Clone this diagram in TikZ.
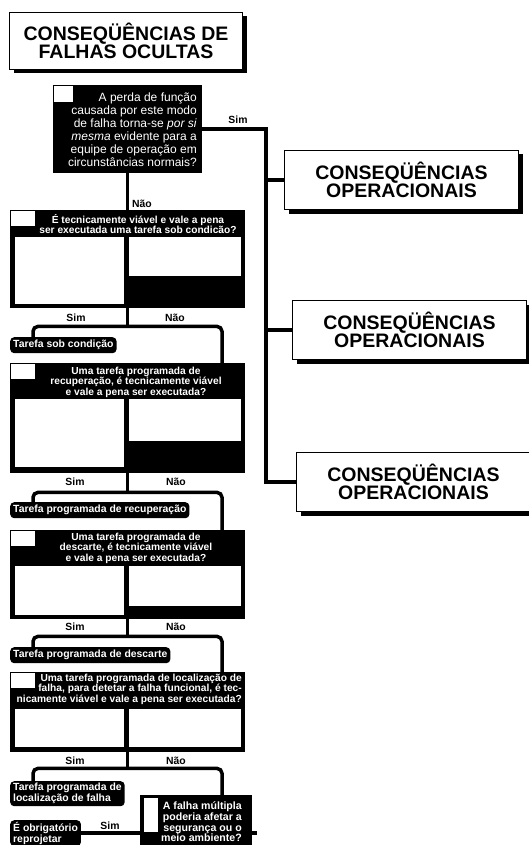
\documentclass[tikz,border=0pt]{standalone}
\usepackage{fontspec}
\setmainfont{Liberation Sans}
\usetikzlibrary{shadows}

\begin{document}
\begin{tikzpicture}[x=1pt,y=-1pt,
	wire/.style={line width=3.5pt},
	qbox/.style={anchor=north west,fill=black,inner sep=0},
	sqbox/.style={anchor=north west,fill=white,draw=black,line width=1pt,inner sep=0},
	qtext/.style={text=white,inner sep=0,align=center,font=\fontsize{10.2}{10.6}\selectfont\bfseries},
	tag/.style={anchor=north west,fill=black,text=white,rounded corners=4pt,inner xsep=3pt,inner ysep=0,
		minimum height=16,align=left,font=\fontsize{10.4}{11}\selectfont\bfseries},
	lbl/.style={inner sep=0,font=\fontsize{10.4}{11}\selectfont\bfseries},
	opbox/.style={anchor=north west,draw,line width=1pt,fill=white,inner sep=0,align=center,
		minimum width=234,minimum height=59,font=\fontsize{19.5}{18}\selectfont\bfseries,
		general shadow={fill=black,shadow xshift=4pt,shadow yshift=-4pt}},
	titlebox/.style={opbox,minimum width=233,minimum height=57,font=\fontsize{19.5}{17}\selectfont\bfseries}]
	\useasboundingbox (0,0) rectangle (528,845);
	% title
	\node[titlebox] (title) at (9,12) {CONSEQÜÊNCIAS DE\\FALHAS OCULTAS};
	% first question
	\node[qbox,minimum width=149,minimum height=88] (q1) at (53,85) {};
	\node[sqbox,minimum width=20,minimum height=17] (k1) at (q1.north west) {};
	\node[qtext,anchor=east,align=right,font=\fontsize{12}{13}\selectfont] (t1) at (197,130)
		{A perda de função\\causada por este modo\\de falha torna-se \textit{por si}\\\textit{mesma} evidente para a\\equipe de operação em\\circunstâncias normais?};
	% Sim: operational consequences
	\node[opbox] (op1) at (284,150) {CONSEQÜÊNCIAS\\OPERACIONAIS};
	\node[opbox] (op2) at (292,300) {CONSEQÜÊNCIAS\\OPERACIONAIS};
	\node[opbox] (op3) at (296,452) {CONSEQÜÊNCIAS\\OPERACIONAIS};
	\coordinate (bus) at (266,129);
	\draw[wire] (q1.east) -| (bus |- op3.west) -- (op3.west);
	\draw[wire] (bus |- op1.west) -- (op1.west);
	\draw[wire] (bus |- op2.west) -- (op2.west);
	\node[lbl] (sim1) at (238,120) {Sim};
	% Não: on-condition task
	\node[qbox,minimum width=235,minimum height=98] (q2) at (10,210) {};
	\draw[wire] (q1.south) -- (q2.north);
	\node[lbl] (nao1) at (142,204) {Não};
	\node[sqbox,minimum width=25,minimum height=16] (k2) at (q2.north west) {};
	\node[qtext] (t2) at (138,224) {É tecnicamente viável e vale a pena\\ser executada uma tarefa sob condicão?};
	\fill[white] (15,237) rectangle (124,304);
	\fill[white] (129,237) rectangle (241,276);
	\draw[wire] (q2.south) -- ++(0,18) coordinate (j2);
	\node[lbl] (sim2) at (76,318) {Sim};
	\node[lbl] (nao2) at (175,318) {Não};
	\node[tag] (a2) at (10,337) {Tarefa sob condição};
	% restoration task
	\node[qbox,minimum width=235,minimum height=110] (q3) at (10,363) {};
	\draw[wire,rounded corners=5pt] ([xshift=23pt]a2.north west) |- (j2) -| ([xshift=212pt]q3.north west);
	\node[sqbox,minimum width=25,minimum height=16] (k3) at (q3.north west) {};
	\node[qtext] (t3) at (136,382) {Uma tarefa programada de\\recuperação, é tecnicamente viável\\e vale a pena ser executada?};
	\fill[white] (15,399) rectangle (124,467);
	\fill[white] (129,399) rectangle (241,441);
	\draw[wire] (q3.south) -- ++(0,19) coordinate (j3);
	\node[lbl] (sim3) at (75,482) {Sim};
	\node[lbl] (nao3) at (176,482) {Não};
	\node[tag] (a3) at (10,502) {Tarefa programada de recuperação};
	% discard task
	\node[qbox,minimum width=235,minimum height=89] (q4) at (10,530) {};
	\draw[wire,rounded corners=5pt] ([xshift=23pt]a3.north west) |- (j3) -| ([xshift=212pt]q4.north west);
	\node[sqbox,minimum width=25,minimum height=16] (k4) at (q4.north west) {};
	\node[qtext] (t4) at (136,548) {Uma tarefa programada de\\descarte, é tecnicamente viável\\e vale a pena ser executada?};
	\fill[white] (15,566) rectangle (124,615);
	\fill[white] (129,566) rectangle (241,606);
	\draw[wire] (q4.south) -- ++(0,17) coordinate (j4);
	\node[lbl] (sim4) at (75,627) {Sim};
	\node[lbl] (nao4) at (176,627) {Não};
	\node[tag] (a4) at (10,647) {Tarefa programada de descarte};
	% failure-finding task
	\node[qbox,minimum width=235,minimum height=80] (q5) at (10,672) {};
	\draw[wire,rounded corners=5pt] ([xshift=23pt]a4.north west) |- (j4) -| ([xshift=212pt]q5.north west);
	\node[sqbox,minimum width=25,minimum height=16] (k5) at (q5.north west) {};
	\node[qtext,anchor=east,align=right] (t5) at (242,689) {Uma tarefa programada de localização de\\falha, para detetar a falha funcional, é tec-\\nicamente viável e vale a pena ser executada?};
	\fill[white] (15,709) rectangle (124,747);
	\fill[white] (129,709) rectangle (241,747);
	\draw[wire] (q5.south) -- ++(0,16) coordinate (j5);
	\node[lbl] (sim5) at (75,761) {Sim};
	\node[lbl] (nao5) at (176,761) {Não};
	\node[tag,minimum height=25] (a5) at (10,781) {Tarefa programada de\\localização de falha};
	% multiple failure
	\node[qbox,minimum width=112,minimum height=60] (q6) at (140,795) {};
	\draw[wire,rounded corners=5pt] ([xshift=23pt]a5.north west) |- (j5) -| ([xshift=82pt]q6.north west);
	\node[sqbox,minimum width=15,minimum height=35] (k6) at ([xshift=3pt,yshift=-2pt]q6.north west) {};
	\node[qtext,anchor=east,align=right,font=\fontsize{10.6}{10.7}\selectfont\bfseries] (t6) at (242,822)
		{A falha múltipla\\poderia afetar a\\segurança ou o\\meio ambiente?};
	\node[tag,minimum height=26] (a6) at (10,820) {É obrigatório\\reprojetar};
	\draw[wire] (a6.east) -- (a6.east -| q6.west);
	\draw[wire] (a6.east -| q6.east) -- ++(5,0);
	\node[lbl] (sim6) at (110,826) {Sim};
\end{tikzpicture}
\end{document}
